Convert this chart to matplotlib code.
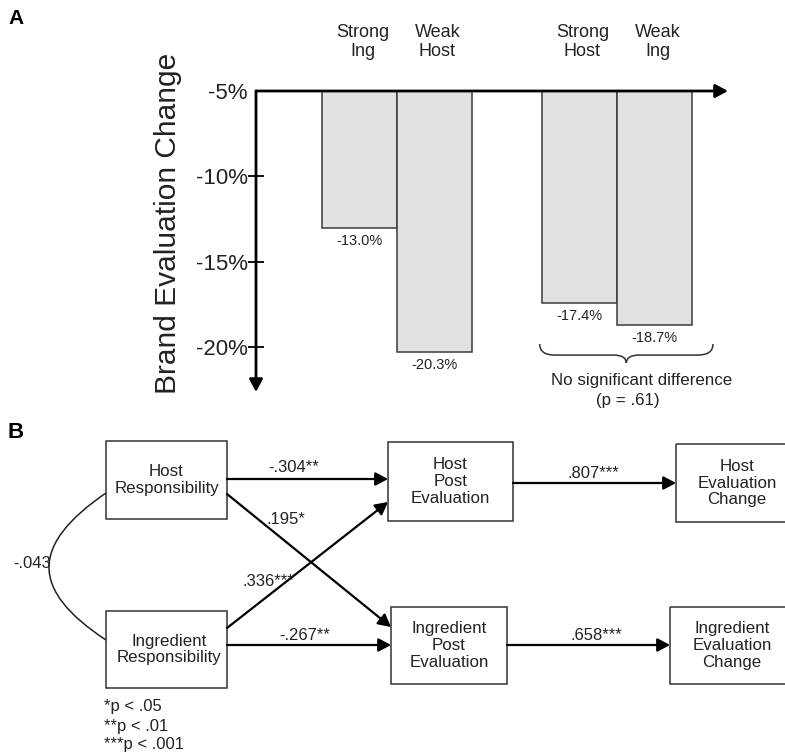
#!/usr/bin/env python3
"""
Two-panel figure: (A) brand evaluation change per condition,
(B) path model of responsibility -> post evaluation -> evaluation change.
"""

import numpy as np
import matplotlib
matplotlib.use("Agg")
import matplotlib.pyplot as plt
from matplotlib.patches import Rectangle, PathPatch
from matplotlib.path import Path

plt.rcParams["font.family"] = ["Liberation Sans", "DejaVu Sans"]

# ── Panel A data ────────────────────────────────────────────────────────────
conditions = ["Strong\nIng", "Weak\nHost", "Strong\nHost", "Weak\nIng"]
eval_change = [-13.0, -20.3, -17.4, -18.7]          # percent
yticks = [-5, -10, -15, -20]
sig_note = ["No significant difference", "(p = .61)"]

# ── Panel B data ────────────────────────────────────────────────────────────
nodes = {
    "host_resp": "Host\nResponsibility",
    "ing_resp": "Ingredient\nResponsibility",
    "host_post": "Host\nPost\nEvaluation",
    "ing_post": "Ingredient\nPost\nEvaluation",
    "host_chg": "Host\nEvaluation\nChange",
    "ing_chg": "Ingredient\nEvaluation\nChange",
}
paths = [
    ("host_resp", "host_post", "-.304**"),
    ("host_resp", "ing_post", ".195*"),
    ("ing_resp", "host_post", ".336***"),
    ("ing_resp", "ing_post", "-.267**"),
    ("host_post", "host_chg", ".807***"),
    ("ing_post", "ing_chg", ".658***"),
]
covariance = "-.043"
footnotes = ["*p < .05", "**p < .01", "***p < .001"]

W, H = 785, 755
fig = plt.figure(figsize=(W / 100, H / 100), dpi=100)

# full-figure pixel canvas for the diagram and panel letters
cv = fig.add_axes([0, 0, 1, 1], zorder=0)
cv.set_xlim(0, W)
cv.set_ylim(H, 0)
cv.axis("off")

# ── Panel A: bar chart ──────────────────────────────────────────────────────
ax_l, ax_r, ax_t, ax_b = 256, 728, 91, 392
ax = fig.add_axes([ax_l / W, 1 - ax_b / H, (ax_r - ax_l) / W, (ax_b - ax_t) / H], zorder=2)
ax.patch.set_alpha(0)
base = -5
ax.set_xlim(0, (ax_r - ax_l) / 75)
ax.set_ylim(base - (ax_b - ax_t) / 17.07, base)

group_centers = [1.88, 4.813]
xpos = [group_centers[0] - 0.5, group_centers[0] + 0.5,
        group_centers[1] - 0.5, group_centers[1] + 0.5]
vals = np.array(eval_change)
ax.bar(xpos, vals - base, bottom=base, width=1.0, color="#e1e1e1",
       edgecolor="#3a3a3a", linewidth=1.1, zorder=2)

for x, v, lab in zip(xpos, vals, conditions):
    ax.annotate(f"{v:.1f}%", (x, v), xytext=(0, -13), textcoords="offset pixels",
                ha="center", va="center", fontsize=10.5, color="#222")
    ax.annotate(lab, (x, base), xytext=(3, 49), textcoords="offset pixels",
                ha="center", va="center", fontsize=13, color="#222",
                linespacing=1.15, annotation_clip=False)

for s in ax.spines.values():
    s.set_visible(False)
ax.set_xticks([])
ax.set_yticks(yticks)
ax.set_yticklabels([f"{t}%" for t in yticks])
ax.tick_params(axis="y", direction="inout", length=12, width=1.3, pad=0,
               labelsize=16, labelcolor="#222")
ax.yaxis.get_major_ticks()[0].tick1line.set_visible(False)

arrow_axis = dict(arrowstyle="-|>,head_length=0.75,head_width=0.4",
                  mutation_scale=10, lw=2.0, color="black", shrinkA=0, shrinkB=0)
ax.annotate("", xy=(1, 1), xytext=(0, 1), xycoords="axes fraction",
            arrowprops=arrow_axis, annotation_clip=False)
ax.annotate("", xy=(0, 0), xytext=(0, 1), xycoords="axes fraction",
            arrowprops=arrow_axis, annotation_clip=False)

ax.text(-0.186, 0.561, "Brand Evaluation Change", transform=ax.transAxes,
        rotation=90, ha="center", va="center", fontsize=21.5, color="#222")

# brace under the second group
bl = xpos[2] - 0.5 - 0.03
br = xpos[3] + 0.5 + 0.28
bm = (bl + br) / 2
y0, y1, y2 = -19.82, -20.47, -20.93
verts = [(bl, y0), (bl, y1), (bl + 0.2, y1), (bm - 0.17, y1), (bm, y1), (bm, y2),
         (bm, y1), (bm + 0.17, y1), (br - 0.2, y1), (br, y1), (br, y0)]
codes = [Path.MOVETO, Path.CURVE3, Path.CURVE3, Path.LINETO, Path.CURVE3, Path.CURVE3,
         Path.CURVE3, Path.CURVE3, Path.LINETO, Path.CURVE3, Path.CURVE3]
ax.add_patch(PathPatch(Path(verts, codes), fill=False, lw=1.1, edgecolor="#333",
                       clip_on=False))

cv.text(642, 381, sig_note[0], ha="center", va="center", fontsize=12.2, color="#222")
cv.text(628, 400, sig_note[1], ha="center", va="center", fontsize=12.2, color="#222")

# ── Panel B: path diagram ───────────────────────────────────────────────────
cv.text(16, 18, "A", ha="center", va="center", fontsize=15, fontweight="bold")
cv.text(16, 433, "B", ha="center", va="center", fontsize=16, fontweight="bold")

# box geometry: left, top, right, bottom (pixels)
boxes = {
    "host_resp": (106, 441, 227, 519),
    "ing_resp": (106, 611, 227, 688),
    "host_post": (388, 442, 513, 521),
    "ing_post": (391, 607, 507, 684),
    "host_chg": (676, 444, 798, 522),
    "ing_chg": (670, 607, 794, 684),
}
text_dx = {"ing_resp": 3}
for key, (l, t, r, b) in boxes.items():
    cv.add_patch(Rectangle((l, t), r - l, b - t, fill=False, lw=1.1, edgecolor="#333"))
    cv.text((l + r) / 2 + text_dx.get(key, 0), (t + b) / 2, nodes[key], ha="center",
            va="center", fontsize=12.2, linespacing=1.15, color="#222")

# arrow anchor points and label positions
anchors = {
    ("host_resp", "host_post"): ((227, 479), (388, 479), (294, 468)),
    ("host_resp", "ing_post"): ((227, 494), (391, 627), (286, 519)),
    ("ing_resp", "host_post"): ((227, 628), (388, 502), (268, 581)),
    ("ing_resp", "ing_post"): ((227, 645), (391, 645), (305, 635)),
    ("host_post", "host_chg"): ((513, 483), (676, 483), (593, 473)),
    ("ing_post", "ing_chg"): ((507, 645), (670, 645), (596, 635)),
}
arrow_b = dict(arrowstyle="-|>,head_length=0.75,head_width=0.4",
               mutation_scale=10, lw=1.6, color="black", shrinkA=0, shrinkB=0)
for src, dst, coef in paths:
    start, end, lab = anchors[(src, dst)]
    cv.annotate("", xy=end, xytext=start, arrowprops=arrow_b)
    cv.text(lab[0], lab[1], coef, ha="center", va="center", fontsize=12, color="#222")

# covariance curve between the two responsibility boxes
cov = Path([(106, 493), (30, 545), (30, 590), (106, 640)],
           [Path.MOVETO, Path.CURVE4, Path.CURVE4, Path.CURVE4])
cv.add_patch(PathPatch(cov, fill=False, lw=1.1, edgecolor="#222"))
cv.text(13, 563, covariance, ha="left", va="center", fontsize=12, color="#222")

for i, note in enumerate(footnotes):
    cv.text(104, 707 + 19 * i, note, ha="left", va="center", fontsize=12, color="#222")

fig.savefig("out.png", dpi=100)
plt.close(fig)
